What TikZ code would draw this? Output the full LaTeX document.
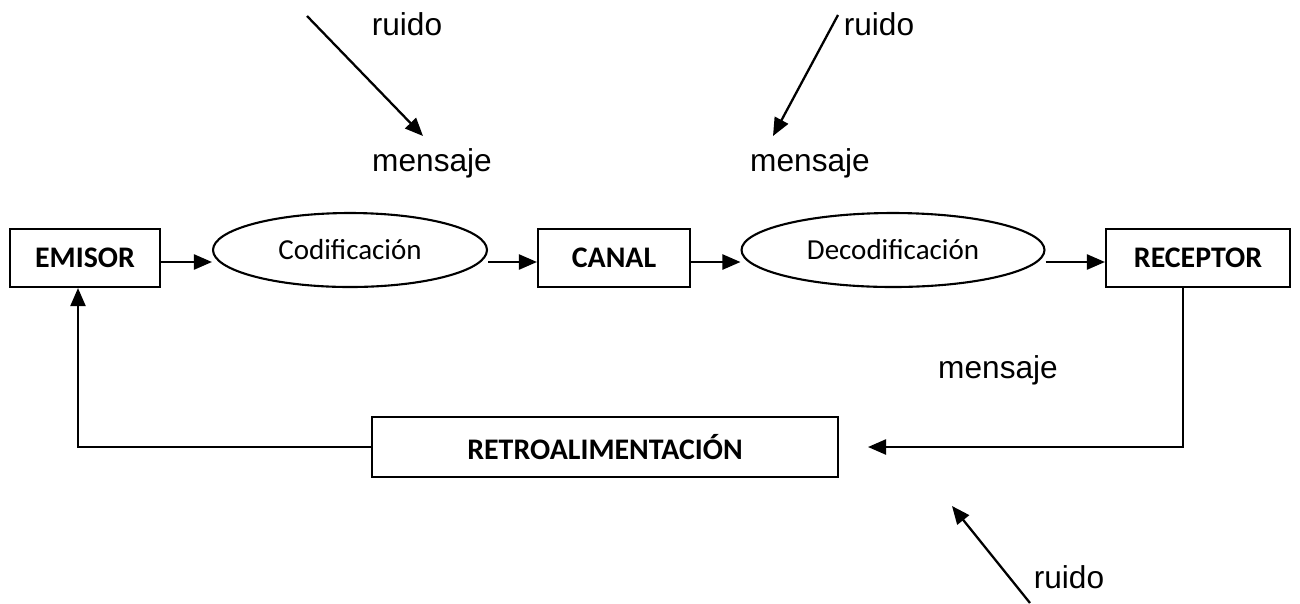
\documentclass[tikz,border=0pt]{standalone}
\usepackage{fontspec}
\setmainfont{Carlito}
\newfontfamily\arialfont{Liberation Sans}
\usepackage{tikz}
\usetikzlibrary{arrows.meta}
\usetikzlibrary{shapes.geometric}

\begin{document}
\begin{tikzpicture}[x=0.02cm,y=-0.02cm,
  caja/.style={draw, line width=1.2pt, minimum height=1.16cm, inner sep=0pt, font=\fontsize{17}{19}\selectfont\bfseries},
  elipse/.style={draw, ellipse, line width=1.2pt, minimum height=1.48cm, inner sep=0pt, font=\fontsize{16.5}{18}\selectfont},
  flecha/.style={line width=1.3pt, -{Triangle[length=0.36cm,width=0.3cm]}},
  txt/.style={font=\arialfont\fontsize{18}{20}\selectfont, inner sep=0pt}]
\useasboundingbox (0,0) rectangle (1300,603);
% fila principal
\node[caja, minimum width=3cm] (emisor) at (85,258) {EMISOR};
\node[elipse, minimum width=5.48cm] (codif) at (350,250) {Codificación};
\node[caja, minimum width=3.04cm] (canal) at (614,258) {CANAL};
\node[elipse, minimum width=6.06cm] (decod) at (893,250) {Decodificación};
\node[caja, minimum width=3.68cm] (recep) at (1198,258) {RECEPTOR};
\node[caja, minimum width=9.32cm, minimum height=1.2cm] (retro) at (605,447) {RETROALIMENTACIÓN};
\coordinate (fila) at (0,262);
\draw[flecha] (emisor.east |- fila) -- (codif.west |- fila);
\draw[flecha] (codif.east |- fila) -- (canal.west |- fila);
\draw[flecha] (canal.east |- fila) -- (decod.west |- fila);
\draw[flecha] (decod.east |- fila) -- (recep.west |- fila);
% retroalimentacion
\coordinate (baja) at (1183,447);
\coordinate (llega) at (868,447);
\coordinate (sube) at (78,447);
\draw[flecha] (recep.south -| baja) -- (baja) -- (llega);
\draw[flecha] (retro.west) -- (sube) -- (emisor.south -| sube);
% ruido y mensaje
\node[txt] (ruido1) at (407,24) {ruido};
\node[txt] (msj1) at (432,163) {mensaje};
\node[txt] (ruido2) at (879,24) {ruido};
\node[txt] (msj2) at (810,163) {mensaje};
\node[txt] (msj3) at (998,370) {mensaje};
\node[txt] (ruido3) at (1069,577) {ruido};
\coordinate (r1a) at (307,16);
\coordinate (r1b) at (423,136);
\coordinate (r2a) at (838,15);
\coordinate (r2b) at (773,136);
\coordinate (r3a) at (1030,603);
\coordinate (r3b) at (952,506);
\draw[flecha] (r1a) -- (r1b);
\draw[flecha] (r2a) -- (r2b);
\draw[flecha] (r3a) -- (r3b);
\end{tikzpicture}
\end{document}
